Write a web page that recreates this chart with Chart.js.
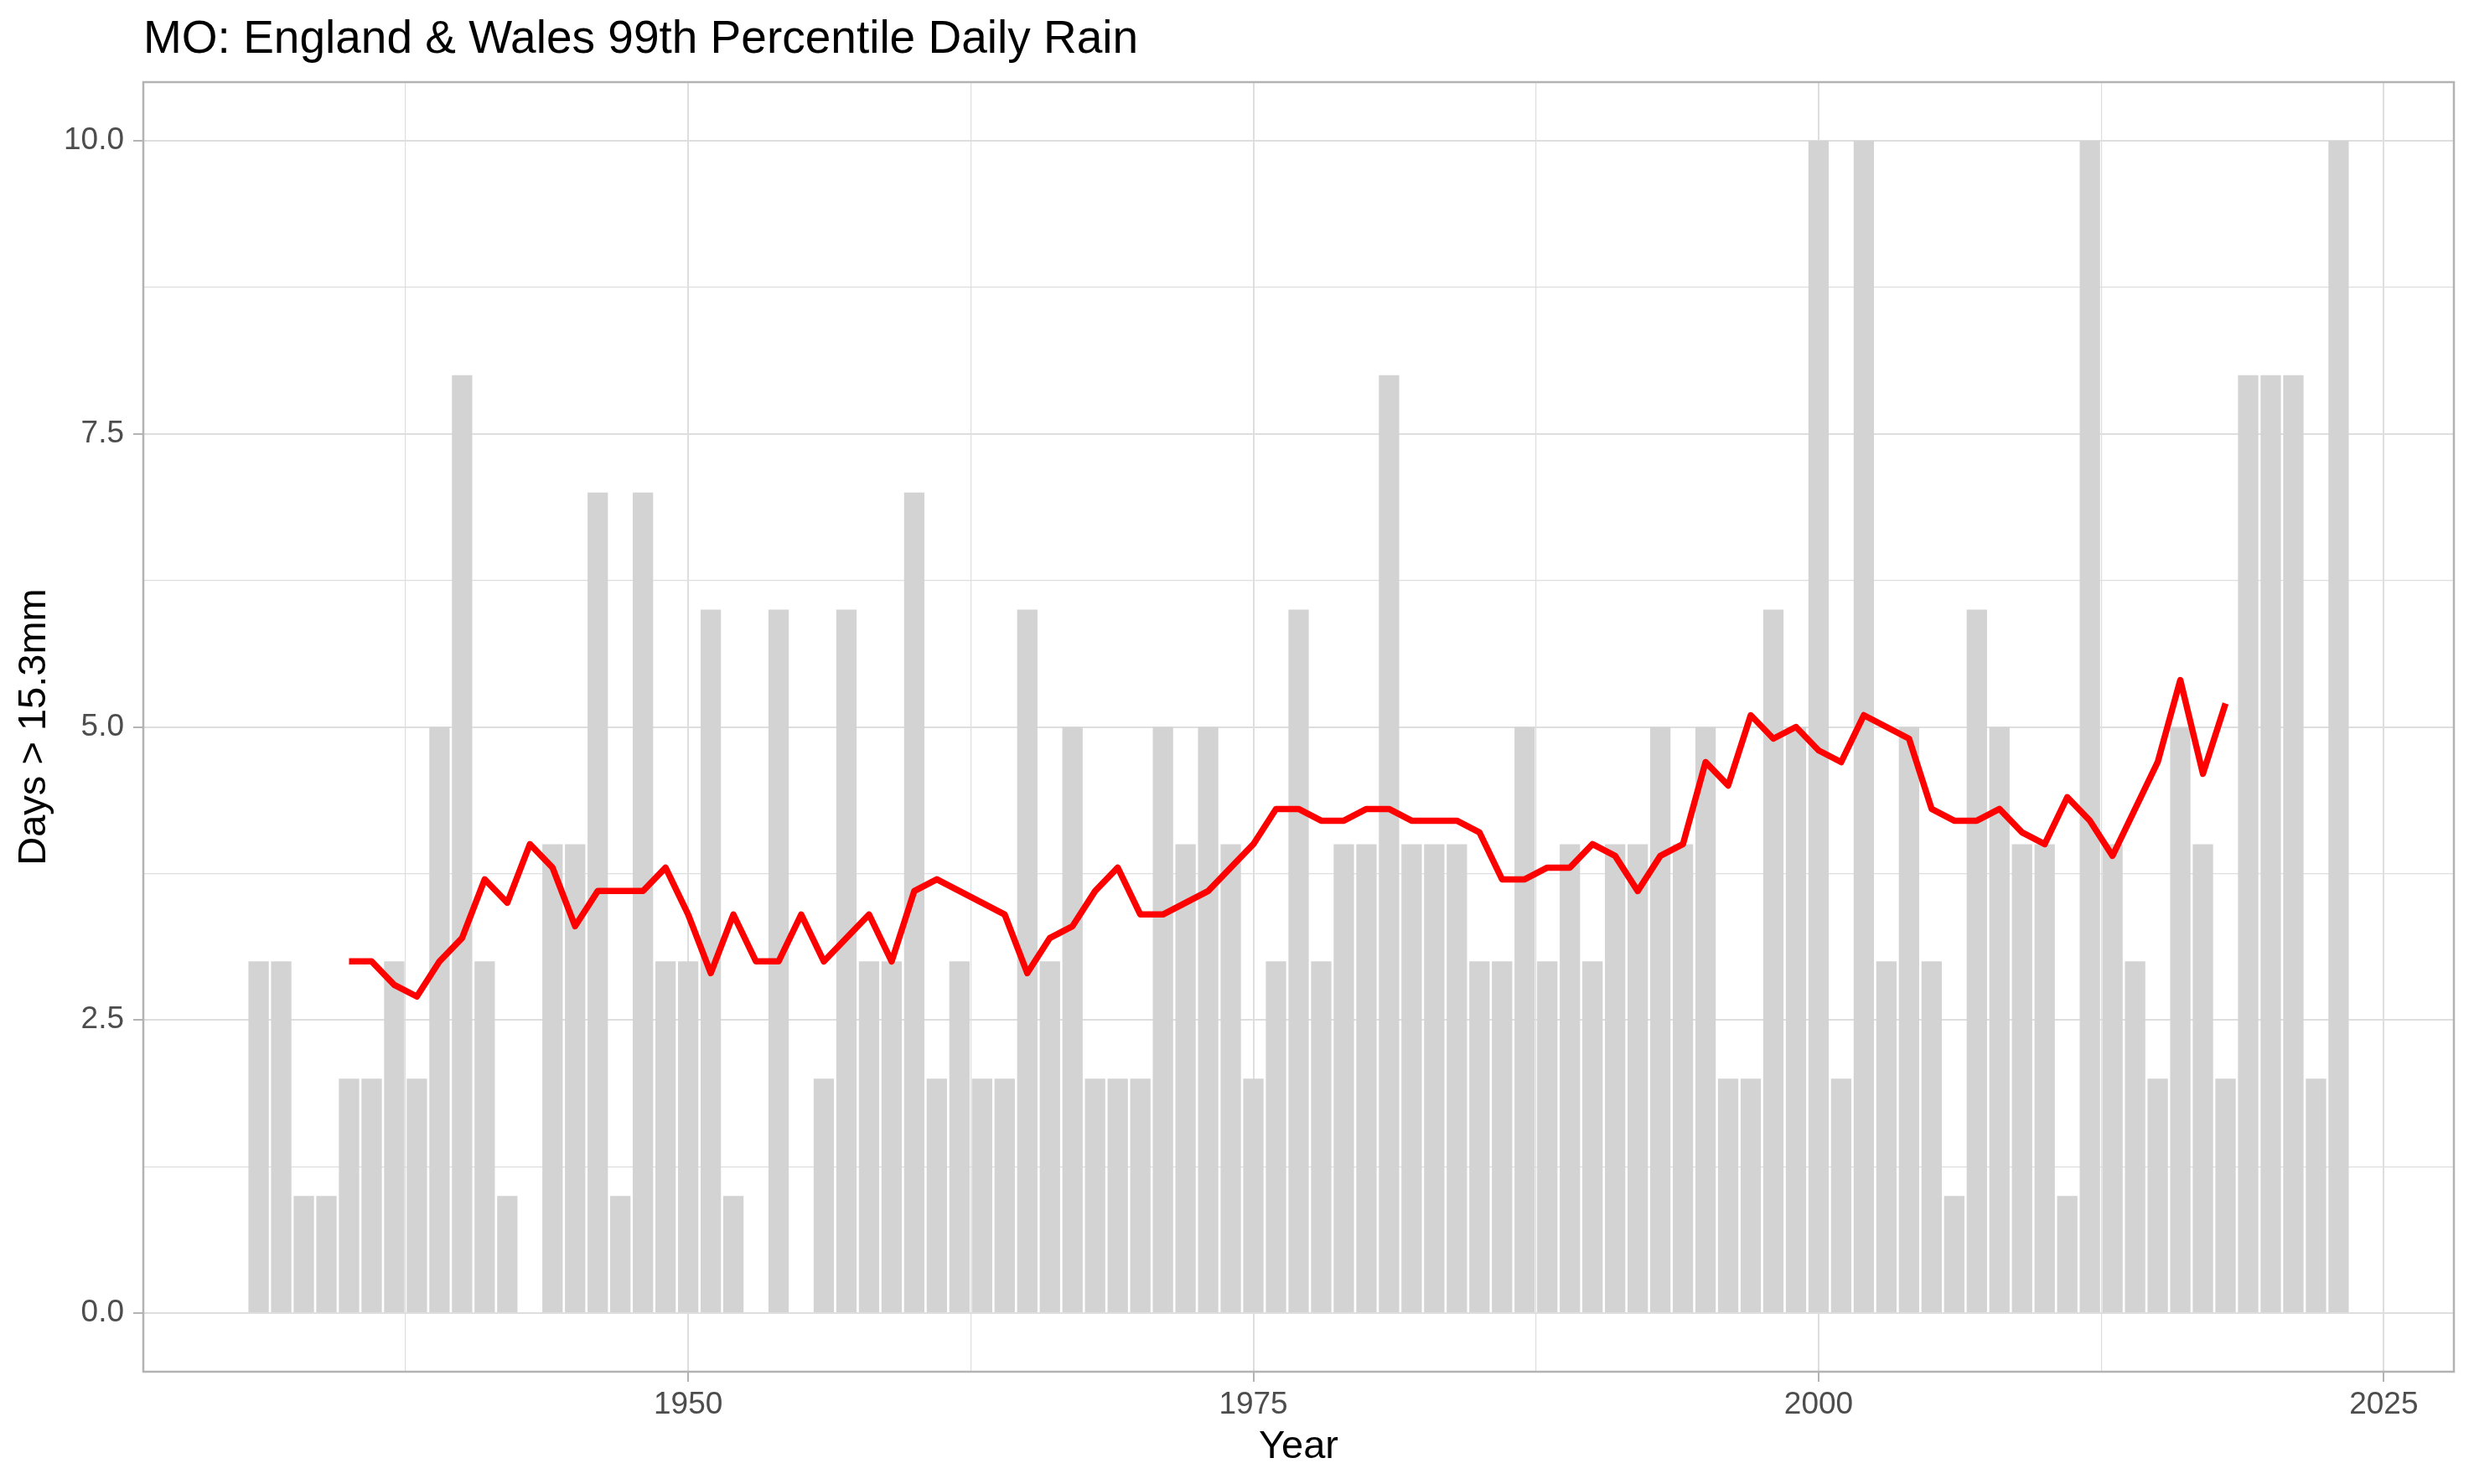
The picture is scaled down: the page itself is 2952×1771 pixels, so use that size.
<!DOCTYPE html>
<html>
<head>
<meta charset="utf-8">
<title>MO: England &amp; Wales 99th Percentile Daily Rain</title>
<script src="https://cdn.jsdelivr.net/npm/chart.js@4.4.1/dist/chart.umd.min.js"></script>
<style>
  html, body { margin: 0; padding: 0; background: #ffffff; }
  #wrap { width: 2952px; height: 1771px; }
</style>
</head>
<body>
<div id="wrap"><canvas id="myChart"></canvas></div>
<script>
// yearly count of days above the 99th percentile (15.3mm)
const years = [
  1931, 1932, 1933, 1934, 1935, 1936, 1937, 1938, 1939, 1940,
  1941, 1942, 1943, 1944, 1945, 1946, 1947, 1948, 1949, 1950,
  1951, 1952, 1953, 1954, 1955, 1956, 1957, 1958, 1959, 1960,
  1961, 1962, 1963, 1964, 1965, 1966, 1967, 1968, 1969, 1970,
  1971, 1972, 1973, 1974, 1975, 1976, 1977, 1978, 1979, 1980,
  1981, 1982, 1983, 1984, 1985, 1986, 1987, 1988, 1989, 1990,
  1991, 1992, 1993, 1994, 1995, 1996, 1997, 1998, 1999, 2000,
  2001, 2002, 2003, 2004, 2005, 2006, 2007, 2008, 2009, 2010,
  2011, 2012, 2013, 2014, 2015, 2016, 2017, 2018, 2019, 2020,
  2021, 2022, 2023
];
const days = [
  3, 3, 1, 1, 2, 2, 3, 2, 5, 8,
  3, 1, 0, 4, 4, 7, 1, 7, 3, 3,
  6, 1, 0, 6, 0, 2, 6, 3, 3, 7,
  2, 3, 2, 2, 6, 3, 5, 2, 2, 2,
  5, 4, 5, 4, 2, 3, 6, 3, 4, 4,
  8, 4, 4, 4, 3, 3, 5, 3, 4, 3,
  4, 4, 5, 4, 5, 2, 2, 6, 5, 10,
  2, 10, 3, 5, 3, 1, 6, 5, 4, 4,
  1, 10, 4, 3, 2, 5, 4, 2, 8, 8,
  8, 2, 10
];

// running 10 year average (red line)
const avgYears = [
  1935, 1936, 1937, 1938, 1939, 1940, 1941, 1942, 1943, 1944,
  1945, 1946, 1947, 1948, 1949, 1950, 1951, 1952, 1953, 1954,
  1955, 1956, 1957, 1958, 1959, 1960, 1961, 1962, 1963, 1964,
  1965, 1966, 1967, 1968, 1969, 1970, 1971, 1972, 1973, 1974,
  1975, 1976, 1977, 1978, 1979, 1980, 1981, 1982, 1983, 1984,
  1985, 1986, 1987, 1988, 1989, 1990, 1991, 1992, 1993, 1994,
  1995, 1996, 1997, 1998, 1999, 2000, 2001, 2002, 2003, 2004,
  2005, 2006, 2007, 2008, 2009, 2010, 2011, 2012, 2013, 2014,
  2015, 2016, 2017, 2018
];
const avgDays = [
  3.0, 3.0, 2.8, 2.7, 3.0, 3.2, 3.7, 3.5, 4.0, 3.8,
  3.3, 3.6, 3.6, 3.6, 3.8, 3.4, 2.9, 3.4, 3.0, 3.0,
  3.4, 3.0, 3.2, 3.4, 3.0, 3.6, 3.7, 3.6, 3.5, 3.4,
  2.9, 3.2, 3.3, 3.6, 3.8, 3.4, 3.4, 3.5, 3.6, 3.8,
  4.0, 4.3, 4.3, 4.2, 4.2, 4.3, 4.3, 4.2, 4.2, 4.2,
  4.1, 3.7, 3.7, 3.8, 3.8, 4.0, 3.9, 3.6, 3.9, 4.0,
  4.7, 4.5, 5.1, 4.9, 5.0, 4.8, 4.7, 5.1, 5.0, 4.9,
  4.3, 4.2, 4.2, 4.3, 4.1, 4.0, 4.4, 4.2, 3.9, 4.3,
  4.7, 5.4, 4.6, 5.2
];

const xMajorTicks = [1950, 1975, 2000, 2025];
const xMinorTicks = [1937.5, 1962.5, 1987.5, 2012.5];
const yMajorTicks = [0, 2.5, 5, 7.5, 10];
const yMinorTicks = [1.25, 3.75, 6.25, 8.75];

const fontFamily = '"Liberation Sans", Arial, sans-serif';

const isMajorTick = (list, c) => c.tick && list.includes(c.tick.value);

// ggplot style grey box round the panel
const panelBorder = {
  id: 'panelBorder',
  afterDraw(chart) {
    const { ctx, chartArea } = chart;
    ctx.save();
    ctx.strokeStyle = '#b3b3b3';
    ctx.lineWidth = 2.5;
    ctx.strokeRect(chartArea.left, chartArea.top,
      chartArea.right - chartArea.left, chartArea.bottom - chartArea.top);
    ctx.restore();
  }
};

const ctx = document.getElementById('myChart');

new Chart(ctx, {
  type: 'bar',
  data: {
    datasets: [
      {
        type: 'line',
        label: '10 year average',
        data: avgYears.map((y, i) => ({ x: y, y: avgDays[i] })),
        borderColor: '#ff0000',
        borderWidth: 7.5,
        borderJoinStyle: 'round',
        pointRadius: 0,
        tension: 0,
        fill: false,
        order: 0
      },
      {
        type: 'bar',
        label: 'Days',
        data: years.map((y, i) => ({ x: y, y: days[i] })),
        backgroundColor: '#d3d3d3',
        borderWidth: 0,
        barPercentage: 0.9,
        categoryPercentage: 1,
        order: 1
      }
    ]
  },
  options: {
    responsive: true,
    maintainAspectRatio: false,
    animation: false,
    devicePixelRatio: 1,
    layout: { padding: { left: 0, right: 24, top: 0, bottom: 0 } },
    plugins: {
      legend: { display: false },
      tooltip: { enabled: false },
      title: {
        display: true,
        text: 'MO: England & Wales 99th Percentile Daily Rain',
        align: 'start',
        fullSize: false,
        color: '#000000',
        font: { family: fontFamily, size: 55, weight: 'normal', lineHeight: 1.2 },
        padding: { top: 15, bottom: 17 }
      }
    },
    scales: {
      x: {
        type: 'linear',
        min: 1925.9,
        max: 2028.1,
        offset: false,
        afterBuildTicks: s => {
          s.ticks = xMinorTicks.concat(xMajorTicks).sort((a, b) => a - b).map(v => ({ value: v }));
        },
        afterFit: s => { s.height = 134; },
        border: { display: false },
        grid: {
          offset: false,
          color: '#dedede',
          lineWidth: c => isMajorTick(xMajorTicks, c) ? 2 : 1.2,
          tickLength: 12,
          tickWidth: 2,
          tickColor: c => isMajorTick(xMajorTicks, c) ? '#b3b3b3' : 'rgba(0,0,0,0)'
        },
        ticks: {
          autoSkip: false,
          maxRotation: 0,
          padding: 6,
          color: '#4d4d4d',
          font: { family: fontFamily, size: 37 },
          callback: v => xMajorTicks.includes(v) ? String(v) : ''
        },
        title: {
          display: true,
          text: 'Year',
          color: '#000000',
          font: { family: fontFamily, size: 47 },
          padding: { top: 0, bottom: 16 }
        }
      },
      y: {
        type: 'linear',
        min: -0.5,
        max: 10.5,
        afterBuildTicks: s => {
          s.ticks = yMinorTicks.concat(yMajorTicks).sort((a, b) => a - b).map(v => ({ value: v }));
        },
        afterFit: s => { s.width = 171; },
        border: { display: false },
        grid: {
          color: '#dedede',
          lineWidth: c => isMajorTick(yMajorTicks, c) ? 2 : 1.2,
          tickLength: 12,
          tickWidth: 2,
          tickColor: c => isMajorTick(yMajorTicks, c) ? '#b3b3b3' : 'rgba(0,0,0,0)'
        },
        ticks: {
          autoSkip: false,
          padding: 11,
          color: '#4d4d4d',
          font: { family: fontFamily, size: 37 },
          callback: v => yMajorTicks.includes(v) ? v.toFixed(1) : ''
        },
        title: {
          display: true,
          text: 'Days > 15.3mm',
          color: '#000000',
          font: { family: fontFamily, size: 47 },
          padding: { top: 13, bottom: 0 }
        }
      }
    }
  },
  plugins: [panelBorder]
});
</script>
</body>
</html>
